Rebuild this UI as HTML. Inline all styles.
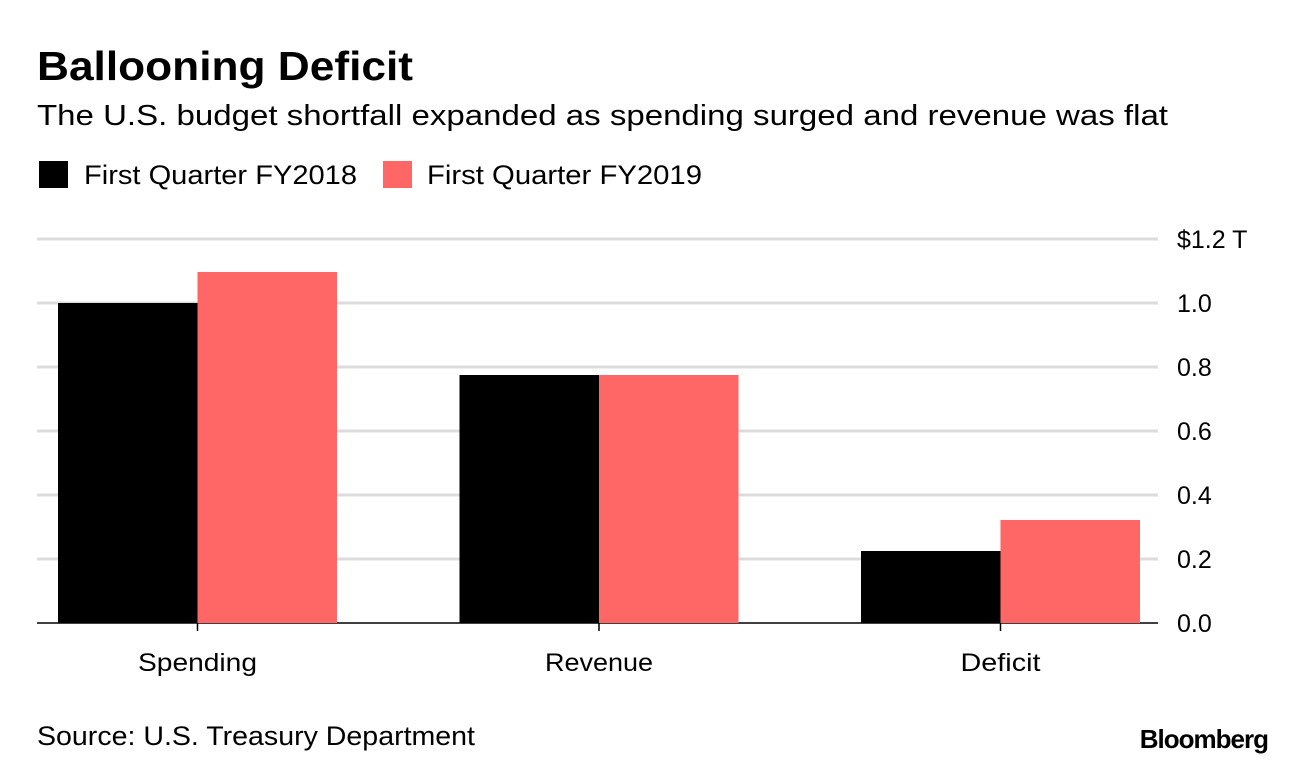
<!DOCTYPE html>
<html><head><meta charset="utf-8"><style>
body{margin:0;background:#fff;width:1296px;height:768px;overflow:hidden;font-family:"Liberation Sans",sans-serif;}
</style></head><body>
<svg width="1296" height="768" font-family="Liberation Sans, sans-serif">
<text x="37" y="80" font-size="41" font-weight="bold" fill="#000" textLength="376" lengthAdjust="spacingAndGlyphs">Ballooning Deficit</text>
<text x="37" y="125" font-size="29" fill="#000" textLength="1131" lengthAdjust="spacingAndGlyphs">The U.S. budget shortfall expanded as spending surged and revenue was flat</text>
<rect x="39" y="161" width="29" height="27" fill="#000"/>
<text x="84" y="184" font-size="27" textLength="273" lengthAdjust="spacingAndGlyphs">First Quarter FY2018</text>
<rect x="383" y="161" width="29" height="27" fill="#ff6666"/>
<text x="427" y="184" font-size="27" textLength="275" lengthAdjust="spacingAndGlyphs">First Quarter FY2019</text>
<g id="grid"></g><g id="bars"></g><g id="labels"></g>
<text x="37" y="745" font-size="27" textLength="438" lengthAdjust="spacingAndGlyphs">Source: U.S. Treasury Department</text>
<text x="1268" y="748" font-size="26" font-weight="bold" text-anchor="end" letter-spacing="-1">Bloomberg</text>
</svg>
<script>
const categories=["Spending","Revenue","Deficit"];
const fy2018=[1.0,0.775,0.225];
const fy2019=[1.097,0.775,0.322];
const ticks=[0,0.2,0.4,0.6,0.8,1.0,1.2];
const tickLabels=["0.0","0.2","0.4","0.6","0.8","1.0","$1.2 T"];
const catLabelWidths=[119,108,80];
const NS="http://www.w3.org/2000/svg";
const y0=623,yTop=239,vmax=1.2,xL=37,xR=1158;
const y=v=>y0-(v/vmax)*(y0-yTop);
const cx=i=>197.5+i*401.5;
const bw=139.5;
function mk(tag,attrs,parent){const e=document.createElementNS(NS,tag);for(const k in attrs)e.setAttribute(k,attrs[k]);document.getElementById(parent).appendChild(e);return e;}
ticks.forEach((t,i)=>{
  const l=mk('line',{x1:xL,x2:xR,y1:y(t),y2:y(t),stroke:t===0?'#000':'#dcdcdc','stroke-width':t===0?1.5:3},'grid');
  
  
  const tx=mk('text',{x:1177,y:y(t)+9,'font-size':25},'labels');
  tx.textContent=tickLabels[i];
  
  
});
categories.forEach((c,i)=>{
  const x=cx(i);
  const b1=mk('rect',{x:x-bw,y:y(fy2018[i]),width:bw,height:y0-y(fy2018[i]),fill:'#000'},'bars');
  
  
  const b2=mk('rect',{x:x,y:y(fy2019[i]),width:bw,height:y0-y(fy2019[i]),fill:'#ff6666'},'bars');
  
  
  const tk=mk('line',{x1:x,x2:x,y1:y0,y2:y0+8,stroke:'#000','stroke-width':1.5},'labels');
  
  
  const t=mk('text',{x:x-catLabelWidths[i]/2,y:671,'font-size':25,textLength:catLabelWidths[i],lengthAdjust:'spacingAndGlyphs'},'labels');
  t.textContent=c;
  
  
});
</script>
</body></html>
